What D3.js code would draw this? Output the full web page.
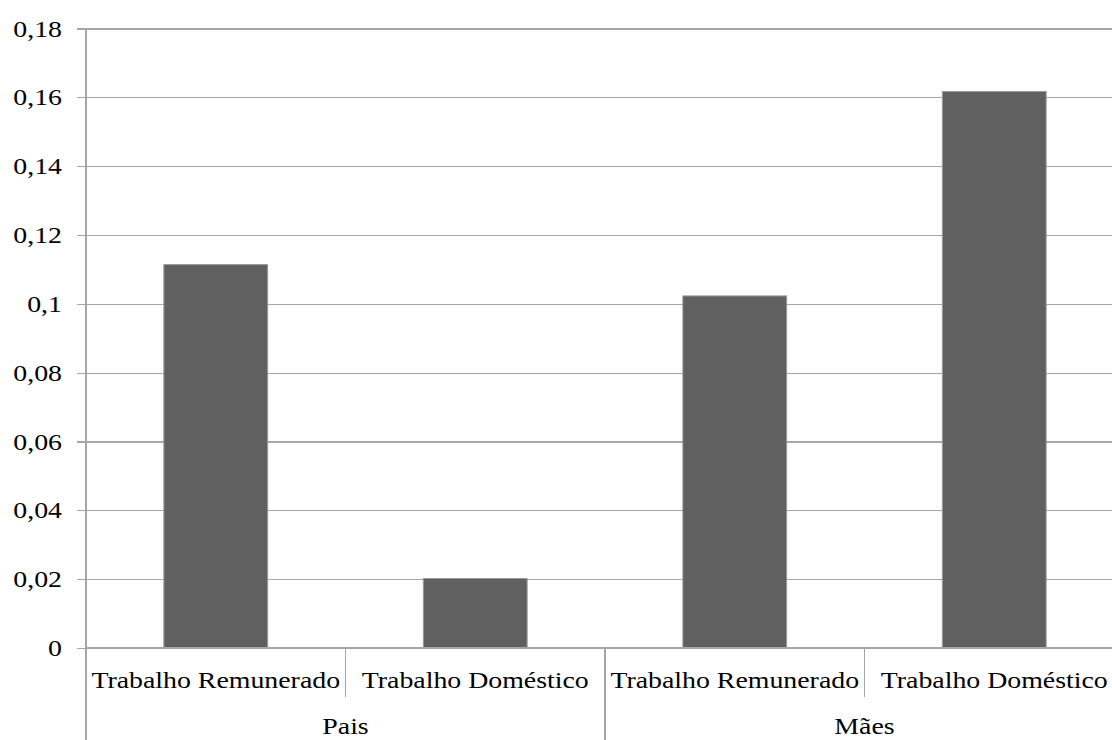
<!DOCTYPE html>
<html>
<head>
<meta charset="utf-8">
<script src="https://cdn.jsdelivr.net/npm/d3@7"></script>
<style>
  html, body { margin: 0; padding: 0; background: #fff; }
  svg { display: block; overflow: hidden; }
</style>
</head>
<body>
<svg id="chart" width="1112" height="740"></svg>
<script>
// Multi-level category bar chart: parent group (Pais / Mães) and activity
const groups = ["Pais", "Mães"];
const categories = ["Trabalho Remunerado", "Trabalho Doméstico", "Trabalho Remunerado", "Trabalho Doméstico"];
const categoryGroup = ["Pais", "Pais", "Mães", "Mães"];
const values = [0.1114, 0.0202, 0.1023, 0.1617];
const yTicks = [0, 0.02, 0.04, 0.06, 0.08, 0.1, 0.12, 0.14, 0.16, 0.18];
const yTickLabels = ["0", "0,02", "0,04", "0,06", "0,08", "0,1", "0,12", "0,14", "0,16", "0,18"];

const W = 1112, H = 740;
const plotLeft = 86, plotTop = 28.5, plotBottom = 648, plotRight = 1124;
const fontSize = 24;
const textStretch = 1.16;
const fontFamily = "Liberation Serif";
const gridColor = "#a6a6a6";

const svg = d3.select("#chart");

const ids = categories.map((c, i) => i);
const x = d3.scaleBand().domain(ids).range([plotLeft, plotRight]).paddingInner(0).paddingOuter(0);
const y = d3.scaleLinear().domain([0, 0.18]).range([plotBottom, plotTop]);

// Horizontal gridlines with small outward ticks
const grid = svg.append("g")
  .attr("transform", `translate(${plotLeft},0)`)
  .call(d3.axisLeft(y).tickValues(yTicks).tickSizeInner(-(plotRight - plotLeft)).tickSizeOuter(0).tickFormat(""));
grid.select(".domain").remove();
grid.selectAll(".tick line")
  .attr("x1", -9)
  .attr("stroke", gridColor)
  .attr("stroke-width", 1.3)
  .attr("shape-rendering", "crispEdges");

// Y tick labels, right aligned
svg.append("g").selectAll("text")
  .data(yTicks)
  .join("text")
  .attr("transform", (d) => `translate(62,${y(d) + 8}) scale(${textStretch},1)`)
  .attr("text-anchor", "end")
  .style("font-family", fontFamily)
  .attr("font-size", fontSize)
  .attr("fill", "#000")
  .text((d, i) => yTickLabels[i]);

// Bars
const barW = x.bandwidth() * 0.4;
svg.append("g").selectAll("rect")
  .data(values)
  .join("rect")
  .attr("x", (d, i) => x(i) + (x.bandwidth() - barW) / 2)
  .attr("y", (d) => y(d))
  .attr("width", barW)
  .attr("height", (d) => y(0) - y(d))
  .attr("fill", "#606060")
  .attr("stroke", "#9a9a9a")
  .attr("stroke-width", 1);

// Vertical value axis line (runs down through the category area)
svg.append("line")
  .attr("x1", plotLeft).attr("x2", plotLeft)
  .attr("y1", plotTop).attr("y2", H)
  .attr("stroke", gridColor).attr("stroke-width", 1.3)
  .attr("shape-rendering", "crispEdges");

// Baseline
svg.append("line")
  .attr("x1", plotLeft).attr("x2", plotRight)
  .attr("y1", y(0)).attr("y2", y(0))
  .attr("stroke", gridColor).attr("stroke-width", 1.3)
  .attr("shape-rendering", "crispEdges");

// Dividers between categories: short inside a group, full height between groups
const dividers = svg.append("g");
ids.slice(1).concat([ids.length]).forEach((i) => {
  const xv = i < ids.length ? x(i) : plotRight;
  const groupEdge = i === ids.length || categoryGroup[i] !== categoryGroup[i - 1];
  dividers.append("line")
    .attr("x1", xv).attr("x2", xv)
    .attr("y1", y(0)).attr("y2", groupEdge ? H : 697)
    .attr("stroke", gridColor).attr("stroke-width", 1.3)
    .attr("shape-rendering", "crispEdges");
});

// Category labels
svg.append("g").selectAll("text")
  .data(categories)
  .join("text")
  .attr("transform", (d, i) => `translate(${x(i) + x.bandwidth() / 2},688) scale(${textStretch},1)`)
  .attr("text-anchor", "middle")
  .style("font-family", fontFamily)
  .attr("font-size", fontSize)
  .attr("fill", "#000")
  .text((d) => d);

// Group labels centred under their categories
svg.append("g").selectAll("text")
  .data(groups)
  .join("text")
  .attr("transform", (g) => {
    const members = ids.filter((i) => categoryGroup[i] === g);
    const x0 = x(members[0]);
    const x1 = x(members[members.length - 1]) + x.bandwidth();
    return `translate(${(x0 + x1) / 2},734) scale(${textStretch},1)`;
  })
  .attr("text-anchor", "middle")
  .style("font-family", fontFamily)
  .attr("font-size", fontSize)
  .attr("fill", "#000")
  .text((d) => d);
</script>
</body>
</html>
